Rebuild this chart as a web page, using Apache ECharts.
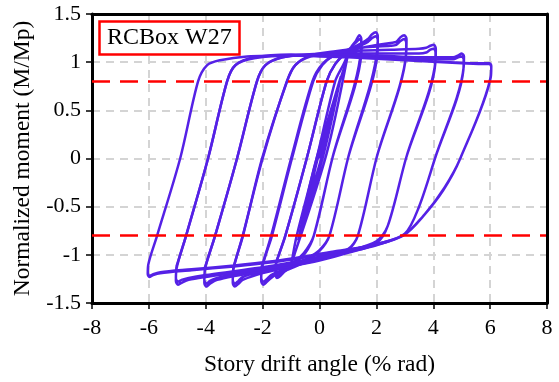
<!DOCTYPE html>
<html>
<head>
<meta charset="utf-8">
<script src="https://cdn.jsdelivr.net/npm/echarts@6/dist/echarts.min.js"></script>
<style>
html,body{margin:0;padding:0;background:#fff;}
#chart{width:559px;height:382px;}
</style>
</head>
<body>
<div id="chart"></div>
<script>
// Story drift angle (% rad) vs normalized moment (M/Mp)
var loopSmall = [[0,0],[0.4,0.45],[0.08,0.02],[-0.4,-0.45],[-0.08,-0.02],[0.5,0.58],[0.1,0.03],[-0.5,-0.58],[-0.1,-0.03],[0.75,0.85],[0.15,0.05],[-0.75,-0.85],[-0.15,-0.05],[0.98,1.05],[0.25,0.05],[-0.98,-1.08]];
var loop15 = [[-0.98,-1.08],[-0.8,-0.8],[-0.1,0],[0.55,0.8],[0.85,0.98],[1.1,1.15],[1.28,1.22],[1.4,1.28],[1.47,1.24],[1.46,1.12],[0.45,0],[-0.2,-0.8],[-0.5,-0.98],[-1.0,-1.12],[-1.25,-1.18],[-1.38,-1.22],[-1.5,-1.24],[-1.55,-1.2],[-1.53,-1.1],[-1.2,-0.8],[-0.45,0],[0.25,0.8],[0.55,0.98],[1.0,1.12],[1.2,1.18],[1.33,1.22],[1.43,1.24],[1.48,1.2],[1.47,1.08],[0.45,0],[-0.2,-0.8],[-0.55,-0.98],[-1.0,-1.1],[-1.25,-1.16],[-1.38,-1.2],[-1.5,-1.22],[-1.55,-1.18],[-1.53,-1.08]];
var loop2 = [[-1.53,-1.08],[-1.2,-0.8],[-0.45,0],[0.25,0.8],[0.55,0.98],[1.0,1.12],[1.5,1.2],[1.7,1.24],[1.85,1.29],[1.98,1.31],[2.05,1.27],[2.04,1.15],[1.0,0],[0.35,-0.8],[0.0,-0.96],[-0.5,-1.07],[-1.0,-1.14],[-1.5,-1.2],[-1.7,-1.24],[-1.85,-1.28],[-1.98,-1.31],[-2.05,-1.27],[-2.03,-1.15],[-1.67,-0.8],[-0.97,0],[-0.22,0.8],[0.1,0.97],[0.5,1.07],[1.0,1.13],[1.5,1.18],[1.7,1.21],[1.85,1.25],[1.98,1.27],[2.05,1.23],[2.04,1.1],[1.0,0],[0.35,-0.8],[0.0,-0.95],[-0.5,-1.05],[-1.0,-1.12],[-1.5,-1.18],[-1.7,-1.21],[-1.85,-1.25],[-1.98,-1.28],[-2.05,-1.24],[-2.03,-1.12]];
var loop3 = [[-2.03,-1.12],[-1.7,-0.8],[-1.0,0],[-0.25,0.8],[0.1,0.98],[0.6,1.08],[1.5,1.15],[2.5,1.2],[2.7,1.21],[2.85,1.26],[2.98,1.28],[3.06,1.24],[3.05,1.1],[2.0,0],[1.35,-0.8],[1.0,-0.95],[0,-1.05],[-1,-1.12],[-2,-1.19],[-2.7,-1.26],[-2.85,-1.3],[-2.98,-1.33],[-3.05,-1.29],[-3.03,-1.16],[-2.69,-0.8],[-2.02,0],[-1.14,0.8],[-0.85,0.97],[-0.3,1.07],[0.5,1.11],[1.5,1.15],[2.5,1.17],[2.7,1.18],[2.85,1.22],[2.98,1.24],[3.05,1.2],[3.04,1.07],[2.0,0],[1.35,-0.8],[1.0,-0.94],[0,-1.03],[-1,-1.1],[-2,-1.17],[-2.7,-1.23],[-2.85,-1.27],[-2.98,-1.3],[-3.05,-1.26],[-3.03,-1.13]];
var loop4 = [[-3.03,-1.13],[-2.7,-0.8],[-2.0,0],[-1.15,0.8],[-0.85,0.97],[-0.3,1.06],[0.5,1.1],[1.5,1.12],[2.5,1.13],[3.5,1.14],[3.75,1.15],[3.9,1.17],[4.02,1.18],[4.09,1.14],[4.08,1.02],[3.04,0],[2.4,-0.7],[2.0,-0.88],[1,-0.98],[0,-1.06],[-1,-1.12],[-2,-1.17],[-3,-1.22],[-3.6,-1.26],[-3.85,-1.3],[-3.98,-1.33],[-4.05,-1.29],[-4.03,-1.16],[-3.67,-0.8],[-2.9,0],[-2.2,0.8],[-1.9,0.97],[-1.3,1.05],[-0.5,1.08],[1,1.09],[2.5,1.09],[3.5,1.09],[3.75,1.1],[3.9,1.13],[4.02,1.14],[4.08,1.1],[4.07,0.98],[3.04,0],[2.4,-0.7],[2.0,-0.86],[1,-0.96],[0,-1.04],[-1,-1.1],[-2,-1.15],[-3,-1.2],[-3.6,-1.24],[-3.85,-1.27],[-3.98,-1.3],[-4.05,-1.26],[-4.03,-1.13]];
var loop5 = [[-4.03,-1.13],[-3.67,-0.8],[-2.9,0],[-2.2,0.8],[-1.9,0.97],[-1.3,1.05],[0,1.08],[2,1.07],[3.5,1.05],[4.7,1.05],[4.88,1.07],[5.0,1.09],[5.08,1.06],[5.07,0.95],[4.06,0],[3.5,-0.5],[3.0,-0.78],[2,-0.9],[1,-0.97],[0,-1.04],[-1,-1.1],[-2,-1.15],[-3,-1.19],[-4,-1.23],[-4.6,-1.26],[-4.85,-1.29],[-4.98,-1.31],[-5.05,-1.27],[-5.03,-1.15],[-4.69,-0.8],[-3.92,0],[-3.25,0.8],[-2.95,0.97],[-2.3,1.05],[-1,1.08],[1,1.06],[3,1.04],[4.7,1.03],[4.88,1.05],[5.0,1.06],[5.07,1.03],[5.06,0.92],[4.06,0],[3.5,-0.5],[3.0,-0.78],[2,-0.89],[1,-0.95],[0,-1.02],[-1,-1.08],[-2,-1.13],[-3,-1.17],[-4,-1.21],[-4.6,-1.24],[-4.85,-1.26],[-4.98,-1.28],[-5.05,-1.24],[-5.03,-1.12]];
var loop6 = [[-5.03,-1.12],[-4.69,-0.8],[-3.92,0],[-3.25,0.8],[-2.95,0.97],[-2.3,1.04],[-1,1.07],[0,1.06],[2,1.04],[4,1.01],[5.5,0.99],[5.85,0.99],[5.98,0.99],[6.04,0.96],[6.02,0.85],[4.95,0],[4.35,-0.33],[3.64,-0.6],[2.94,-0.8],[1.67,-0.92],[0.6,-0.97],[-0.58,-1.03],[-1.74,-1.08],[-3,-1.12],[-4.5,-1.16],[-5.6,-1.19],[-5.85,-1.21],[-5.98,-1.23],[-6.04,-1.2],[-6.02,-1.1],[-5.71,-0.8],[-4.9,0],[-4.27,0.8],[-3.95,0.97],[-3.5,1.02],[-2.55,1.06],[-1,1.07],[1,1.05],[3,1.02],[5,0.99],[5.85,0.98],[5.98,0.98],[6.04,0.95],[6.02,0.84],[4.95,0],[4.4,-0.3],[3.7,-0.58],[2.94,-0.8],[1.67,-0.91],[0.6,-0.96],[-0.58,-1.02],[-1.74,-1.07],[-3,-1.11],[-4.5,-1.15],[-5.6,-1.18],[-5.85,-1.2],[-5.98,-1.22],[-6.04,-1.19]];
var loops = [loopSmall, loop15, loop2, loop3, loop4, loop5, loop6];
var refLevels = [0.8, -0.8];
var xTicks = [-8, 8, 2];   // min, max, interval
var yTicks = [-1.5, 1.5, 0.5];
var labelText = 'RCBox W27';
var xName = 'Story drift angle (% rad)';
var yName = 'Normalized moment (M/Mp)';

var FONT = 'Liberation Serif';
var LINE = '#5521e6';
var chart = echarts.init(document.getElementById('chart'), null, {renderer: 'canvas'});

var series = loops.map(function (d) {
  return {
    type: 'line', data: d, smooth: 0.3, symbol: 'none', silent: true,
    lineStyle: {color: LINE, width: 2.5}, z: 3, animation: false
  };
});
series.push({
  type: 'line', data: [], symbol: 'none', animation: false,
  markLine: {
    silent: true, symbol: 'none', label: {show: false},
    lineStyle: {color: '#ff0000', width: 2.5, type: [18, 10]},
    data: refLevels.map(function (v) { return {yAxis: v}; })
  }, z: 4
});

var split = {show: true, showMinLine: false, showMaxLine: false, lineStyle: {color: '#d4d4d4', width: 2, type: [8, 6]}};
var frameAxis = {
  axisLine: {show: true, onZero: false, lineStyle: {color: '#000', width: 3}},
  axisTick: {show: false}, axisLabel: {show: false}, splitLine: {show: false}
};

chart.setOption({
  animation: false,
  title: {
    text: labelText, left: 99, top: 21,
    padding: [5, 8, 5, 8],
    borderColor: '#ff0000', borderWidth: 2.5, backgroundColor: '#fff',
    textStyle: {fontFamily: FONT, fontSize: 24, fontWeight: 'normal', color: '#000', lineHeight: 24}
  },
  grid: {left: 92, right: 12, top: 14, bottom: 79},
  xAxis: [{
    type: 'value', min: xTicks[0], max: xTicks[1], interval: xTicks[2],
    name: xName, nameLocation: 'middle', nameGap: 50,
    nameTextStyle: {fontFamily: FONT, fontSize: 23.5, color: '#000'},
    axisLine: {show: true, onZero: false, lineStyle: {color: '#000', width: 3}},
    axisTick: {show: true, inside: false, length: 6, lineStyle: {color: '#000', width: 1.5}},
    axisLabel: {fontFamily: FONT, fontSize: 22, color: '#000', margin: 14},
    splitLine: split
  }, Object.assign({type: 'value', position: 'top', min: xTicks[0], max: xTicks[1], z: 5}, frameAxis)],
  yAxis: [{
    type: 'value', min: yTicks[0], max: yTicks[1], interval: yTicks[2],
    name: yName, nameLocation: 'middle', nameGap: 56, nameRotate: 90,
    nameTextStyle: {fontFamily: FONT, fontSize: 23.5, color: '#000'},
    axisLine: {show: true, onZero: false, lineStyle: {color: '#000', width: 3}},
    axisTick: {show: true, inside: false, length: 6, lineStyle: {color: '#000', width: 1.5}},
    axisLabel: {fontFamily: FONT, fontSize: 22, color: '#000', margin: 11},
    splitLine: split
  }, Object.assign({type: 'value', position: 'right', min: yTicks[0], max: yTicks[1], z: 5}, frameAxis)],
  series: series
});
</script>
</body>
</html>
